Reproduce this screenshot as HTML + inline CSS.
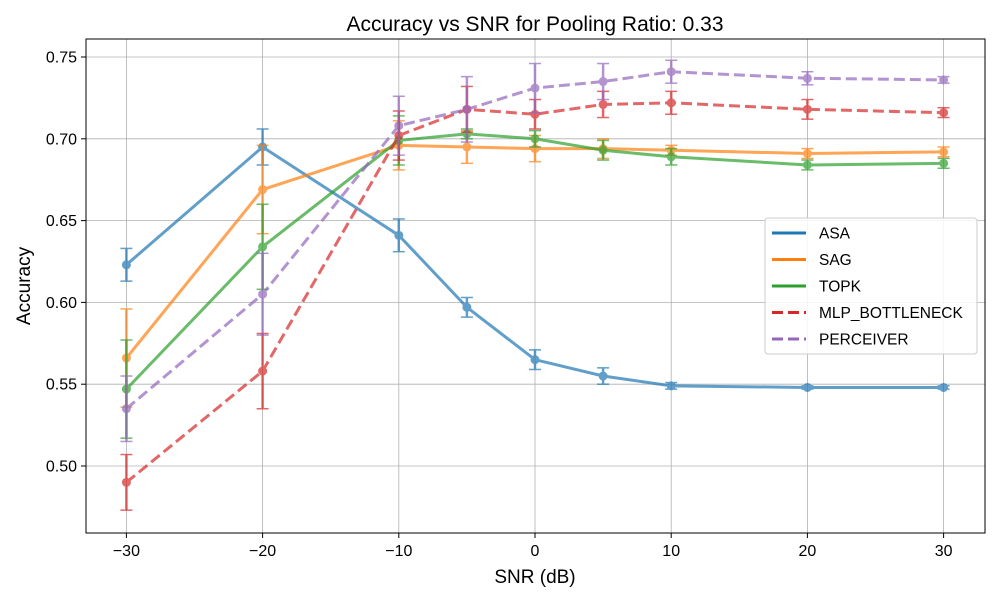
<!DOCTYPE html>
<html><head><meta charset="utf-8"><style>
html,body{margin:0;padding:0;background:#fff;}
svg{display:block;font-family:"Liberation Sans","DejaVu Sans",sans-serif;}
</style></head><body>
<svg id="chart" width="1000" height="600" viewBox="0 0 1000 600">
<rect x="0" y="0" width="1000" height="600" fill="#fff"/>
<text x="535" y="31" font-size="21" text-anchor="middle">Accuracy vs SNR for Pooling Ratio: 0.33</text>
<g id="grid"></g><g id="ticks"></g><g id="series"></g>
<rect x="86" y="39" width="899" height="494" fill="none" stroke="#000" stroke-width="1"/>
<text x="535" y="583" font-size="19" text-anchor="middle">SNR (dB)</text>
<text transform="translate(30,286) rotate(-90)" font-size="19" text-anchor="middle">Accuracy</text>
<g id="legend"></g>
</svg>
<script>
const snr = [-30,-20,-10,-5,0,5,10,20,30];
const xTicks = [-30,-20,-10,0,10,20,30];
const yTicks = [0.50,0.55,0.60,0.65,0.70,0.75];
const seriesNames = ["ASA","SAG","TOPK","MLP_BOTTLENECK","PERCEIVER"];
const asaVals = [0.623,0.695,0.641,0.597,0.565,0.555,0.549,0.548,0.548];
const asaErr = [0.010,0.011,0.010,0.006,0.006,0.005,0.002,0.001,0.001];
const sagVals = [0.566,0.669,0.696,0.695,0.694,0.694,0.693,0.691,0.692];
const sagErr = [0.030,0.027,0.015,0.010,0.008,0.006,0.003,0.003,0.003];
const topkVals = [0.547,0.634,0.699,0.703,0.700,0.693,0.689,0.684,0.685];
const topkErr = [0.030,0.026,0.015,0.003,0.005,0.006,0.005,0.003,0.003];
const mlpVals = [0.490,0.558,0.702,0.718,0.715,0.721,0.722,0.718,0.716];
const mlpErr = [0.017,0.023,0.015,0.014,0.009,0.008,0.007,0.006,0.003];
const perVals = [0.535,0.605,0.708,0.718,0.731,0.735,0.741,0.737,0.736];
const perErr = [0.020,0.025,0.018,0.020,0.015,0.011,0.007,0.004,0.002];

const NS="http://www.w3.org/2000/svg";
const X = v => 535 + v*13.62;
const Y = v => 466 - (v-0.5)*1636;
function mk(tag, attrs, parent){const e=document.createElementNS(NS,tag);for(const k in attrs)e.setAttribute(k,attrs[k]);parent.appendChild(e);return e;}
const grid=document.getElementById('grid'), ticks=document.getElementById('ticks'), ser=document.getElementById('series'), leg=document.getElementById('legend');
xTicks.forEach(t=>{
  const l=mk('line',{x1:X(t),x2:X(t),y1:39,y2:533,stroke:'#b0b0b0','stroke-width':0.8},grid);
  
  
  mk('line',{x1:X(t),x2:X(t),y1:533,y2:538,stroke:'#000'},ticks);
  const tx=mk('text',{x:X(t),y:556,'font-size':16,'text-anchor':'middle'},ticks);tx.textContent=(t<0?'\u2212'+(-t):t);
  
  
});
yTicks.forEach(t=>{
  const l=mk('line',{x1:86,x2:985,y1:Y(t),y2:Y(t),stroke:'#b0b0b0','stroke-width':0.8},grid);
  
  
  mk('line',{x1:81,x2:86,y1:Y(t),y2:Y(t),stroke:'#000'},ticks);
  const tx=mk('text',{x:77,y:Y(t)+5.5,'font-size':16,'text-anchor':'end'},ticks);tx.textContent=t.toFixed(2);
  
  
});
const defs=[[asaVals,asaErr,'#1f77b4',false],[sagVals,sagErr,'#ff7f0e',false],[topkVals,topkErr,'#2ca02c',false],[mlpVals,mlpErr,'#d62728',true],[perVals,perErr,'#9467bd',true]];
defs.forEach((d,i)=>{
  const [vals,errs,c,dash]=d;
  const g=mk('g',{opacity:0.7},ser);
  
  
  vals.forEach((v,j)=>{
    const x=X(snr[j]);
    mk('line',{x1:x,x2:x,y1:Y(v-errs[j]),y2:Y(v+errs[j]),stroke:c,'stroke-width':2.5},g);
    mk('line',{x1:x-6,x2:x+6,y1:Y(v-errs[j]),y2:Y(v-errs[j]),stroke:c,'stroke-width':1.5},g);
    mk('line',{x1:x-6,x2:x+6,y1:Y(v+errs[j]),y2:Y(v+errs[j]),stroke:c,'stroke-width':1.5},g);
  });
  const p=mk('polyline',{points:vals.map((v,j)=>X(snr[j])+','+Y(v)).join(' '),fill:'none',stroke:c,'stroke-width':3,'stroke-dasharray':dash?'11,5':'none'},g);
  
  
  vals.forEach((v,j)=>{
    const m=mk('circle',{cx:X(snr[j]),cy:Y(v),r:4.5,fill:c},g);
    
    
  });
});
mk('rect',{x:765,y:218,width:212,height:136,rx:3,fill:'#fff','fill-opacity':0.85,stroke:'#ccc'},leg);
defs.forEach((d,i)=>{
  const y=233+i*26.5;
  const g=mk('g',{},leg);
  
  
  mk('line',{x1:772,x2:806,y1:y,y2:y,stroke:d[2],'stroke-width':3,'stroke-dasharray':d[3]?'11,5':'none'},g);
  const t=mk('text',{x:819,y:y+5.5,'font-size':15.5},g);t.textContent=seriesNames[i];
});
</script>
</body></html>
